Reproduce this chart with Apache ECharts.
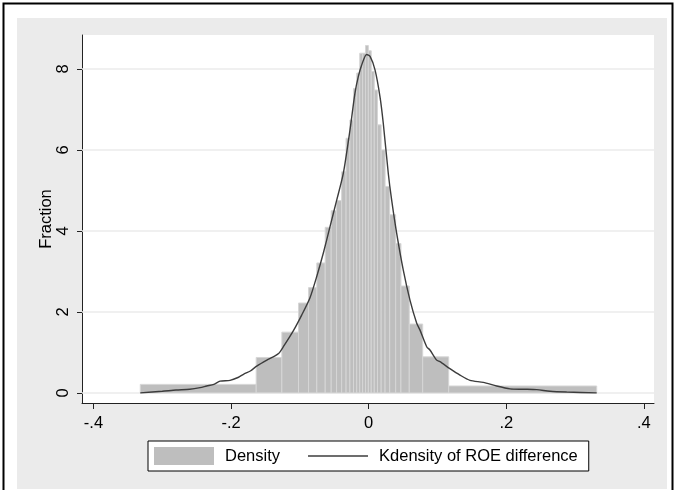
<!DOCTYPE html>
<html>
<head>
<meta charset="utf-8">
<script src="https://cdn.jsdelivr.net/npm/echarts@6/dist/echarts.min.js"></script>
<style>
html,body{margin:0;padding:0;background:#fff;}
#c{width:676px;height:490px;}
</style>
</head>
<body>
<div id="c"></div>
<script>
// ---- data ----
const binEdges = [-0.332, -0.1635, -0.1262, -0.1020, -0.0874, -0.0754, -0.0632, -0.0545, -0.0467, -0.0393,
  -0.0329, -0.0273, -0.0221, -0.0174, -0.0130, -0.0088, -0.0046, -0.0005, 0.0037, 0.0081,
  0.0128, 0.0181, 0.0238, 0.0305, 0.0392, 0.0469, 0.0590, 0.0785, 0.1163, 0.3314];
const binHeights = [0.21, 0.875, 1.50, 2.22, 2.60, 3.21, 4.09, 4.50, 4.75, 5.46,
  6.29, 6.74, 7.52, 7.90, 8.39, 8.39, 8.58, 8.45, 7.94, 7.48,
  6.62, 6.00, 5.10, 4.40, 3.69, 2.64, 1.70, 0.89, 0.17];
const kdensX = [-0.332, -0.30, -0.28, -0.26, -0.245, -0.2355, -0.225, -0.216, -0.2015, -0.19, -0.182, -0.172,
  -0.1628, -0.148, -0.1387, -0.131, -0.124, -0.1096, -0.0974, -0.0853, -0.0756, -0.066, -0.0563,
  -0.0465, -0.0369, -0.0272, -0.020, -0.0151, -0.0102, -0.003, 0.002, 0.0092, 0.0164, 0.0212,
  0.0285, 0.0334, 0.0407, 0.0503, 0.060, 0.0698, 0.0746, 0.0843, 0.089, 0.0988, 0.1036, 0.118,
  0.1327, 0.1472, 0.1666, 0.186, 0.2054, 0.2247, 0.2442, 0.2635, 0.2878, 0.3314];
const kdensY = [0.0, 0.04, 0.07, 0.09, 0.13, 0.17, 0.21, 0.29, 0.31, 0.38, 0.46, 0.54,
  0.66, 0.81, 0.89, 0.97, 1.14, 1.53, 1.92, 2.35, 2.87, 3.45, 4.10,
  4.76, 5.42, 6.49, 7.40, 7.81, 8.10, 8.36, 8.31, 7.98, 7.32, 6.66,
  5.42, 4.76, 3.94, 3.03, 2.29, 1.72, 1.55, 1.14, 1.06, 0.81, 0.77, 0.60,
  0.44, 0.31, 0.26, 0.17, 0.10, 0.09, 0.08, 0.04, 0.02, 0.0];
const xTicks = [-0.4, -0.2, 0, 0.2, 0.4];
const yTicks = [0, 2, 4, 6, 8];
const legendNames = ['Density', 'Kdensity of ROE difference'];
const yTitle = 'Fraction';

// ---- build ----
const X_MIN = -0.4167, X_MAX = 0.4147, Y_MIN = -0.25, Y_MAX = 8.84;
const bins = binHeights.map((h, i) => [binEdges[i], binEdges[i + 1], h]);
const kdens = kdensX.map((x, i) => [x, kdensY[i]]);
const fmtX = v => v === 0 ? '0' : (v < 0 ? '-' : '') + String(Math.abs(v)).replace(/^0/, '');
const FONT = 'Liberation Sans, Arial, sans-serif';
const FS = 16.5;

const chart = echarts.init(document.getElementById('c'), null, {renderer: 'canvas'});
chart.setOption({
  animation: false,
  backgroundColor: '#ffffff',
  textStyle: {fontFamily: FONT},
  graphic: [
    {type: 'rect', z: -20, shape: {x: 3.5, y: 3.5, width: 669, height: 500}, style: {fill: '#ffffff', stroke: '#000', lineWidth: 2}},
    {type: 'rect', z: -19, shape: {x: 17, y: 18, width: 650, height: 471}, style: {fill: '#ebebeb'}},
    {type: 'rect', z: -18, shape: {x: 82, y: 35, width: 572, height: 368}, style: {fill: '#ffffff'}}
  ],
  grid: {left: 82, right: 22, top: 35, bottom: 87, show: false},
  legend: {
    left: 148, top: 441,
    data: [
      {name: legendNames[0], icon: 'rect'},
      {name: legendNames[1], icon: 'path://M0,0H55V1.4H0Z', itemStyle: {color: '#3c3c3c', borderWidth: 0}}
    ],
    symbolKeepAspect: true,
    itemWidth: 60, itemHeight: 18, itemGap: 28,
    padding: [6, 11, 6, 6],
    backgroundColor: '#fff', borderColor: '#000', borderWidth: 1,
    textStyle: {fontSize: FS, color: '#000', fontFamily: FONT, padding: [0, 0, 0, 6]},
    selectedMode: false
  },
  xAxis: {
    type: 'value', min: X_MIN, max: X_MAX,
    axisLine: {onZero: false, lineStyle: {color: '#222', width: 1}},
    axisTick: {show: true, length: 6, customValues: xTicks, lineStyle: {color: '#222'}},
    axisLabel: {customValues: xTicks, formatter: fmtX, fontSize: FS, color: '#000', margin: 12},
    splitLine: {show: false}
  },
  yAxis: {
    type: 'value', min: Y_MIN, max: Y_MAX,
    name: yTitle, nameLocation: 'middle', nameGap: 27, nameRotate: 90, nameMoveOverlap: false,
    nameTextStyle: {fontSize: FS, color: '#000'},
    axisLine: {show: true, onZero: false, lineStyle: {color: '#222', width: 1}},
    axisTick: {show: true, length: 5, customValues: yTicks, lineStyle: {color: '#222'}},
    axisLabel: {customValues: yTicks, rotate: 90, fontSize: FS, color: '#000', margin: 10},
    splitLine: {show: false}
  },
  series: [
    {
      type: 'custom', name: 'grid', z: 1, silent: true,
      data: yTicks,
      renderItem: (params, api) => {
        const v = api.value(0);
        const a = api.coord([X_MIN, v]), b = api.coord([X_MAX, v]);
        return {type: 'line', shape: {x1: a[0], y1: a[1], x2: b[0], y2: b[1]}, style: {stroke: '#ebebeb', lineWidth: 1.5}};
      },
      encode: {x: -1, y: 0}
    },
    {
      type: 'custom', name: legendNames[0], z: 2,
      itemStyle: {color: '#bebebe'},
      data: bins,
      encode: {x: [0, 1], y: 2},
      renderItem: (params, api) => {
        const p0 = api.coord([api.value(0), api.value(2)]);
        const p1 = api.coord([api.value(1), 0]);
        return {type: 'rect', shape: {x: p0[0], y: p0[1], width: p1[0] - p0[0], height: p1[1] - p0[1]},
          style: {fill: '#bebebe', stroke: '#d6d6d6', lineWidth: 1}};
      }
    },
    {
      type: 'line', name: legendNames[1], z: 3,
      data: kdens, showSymbol: false, symbol: 'none', smooth: 0.25,
      lineStyle: {color: '#3c3c3c', width: 1.4},
      itemStyle: {color: '#3c3c3c'}
    }
  ]
});
</script>
</body>
</html>
